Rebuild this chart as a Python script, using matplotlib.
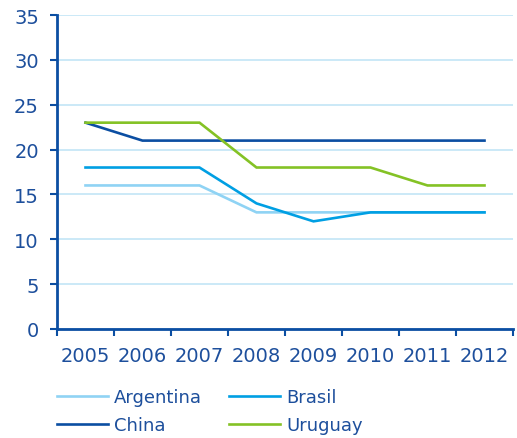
import matplotlib
matplotlib.use("Agg")
import matplotlib.pyplot as plt
import numpy as np

years = ["2005", "2006", "2007", "2008", "2009", "2010", "2011", "2012"]
argentina = [16, 16, 16, 13, 13, 13, 13, 13]
brasil = [18, 18, 18, 14, 12, 13, 13, 13]
china = [23, 21, 21, 21, 21, 21, 21, 21]
uruguay = [23, 23, 23, 18, 18, 18, 16, 16]
y_ticks = [0, 5, 10, 15, 20, 25, 30, 35]

series = [("Argentina", argentina, "#8fd3f4"),
          ("Brasil", brasil, "#009fe3"),
          ("China", china, "#0b4ea2"),
          ("Uruguay", uruguay, "#84c225")]

text_c = "#1d4f9c"
axis_c = "#0b4ea2"
grid_c = "#cbe9f7"

plt.rcParams['font.family'] = ['DejaVu Sans']
fig = plt.figure(figsize=(5.17, 4.39), dpi=100)
ax = fig.add_axes([57/517, 109/439, (513-57)/517, (330-16)/439])

x = np.arange(len(years))
handles = {}
for name, vals, col in series:
    h, = ax.plot(x, vals, color=col, lw=1.9, label=name, solid_joinstyle='miter')
    handles[name] = h

ax.set_xlim(-0.5, len(years) - 0.5)
ax.set_ylim(0, 35)
ax.set_yticks(y_ticks)
ax.set_yticklabels([str(v) for v in y_ticks])
ax.set_xticks(np.arange(len(years) + 1) - 0.5)
ax.set_xticklabels([])
ax.set_xticks(x, minor=True)
ax.set_xticklabels(years, minor=True)
ax.tick_params(axis='x', which='minor', length=0, pad=12, labelsize=14, labelcolor=text_c)
ax.tick_params(axis='x', which='major', length=5, width=1.5, color=axis_c, direction='out')
ax.tick_params(axis='y', length=5, width=1.5, color=axis_c, labelsize=14, labelcolor=text_c, pad=8)

for s in ['top', 'right']:
    ax.spines[s].set_visible(False)
for s in ['left', 'bottom']:
    ax.spines[s].set_color(axis_c)
    ax.spines[s].set_linewidth(2)

ax.yaxis.grid(True, color=grid_c, lw=1.4)
ax.set_axisbelow(True)

order = ["Argentina", "China", "Brasil", "Uruguay"]
leg = fig.legend(handles=[handles[n] for n in order], loc='upper left',
                 bbox_to_anchor=(50/517, 1 - 382/439),
                 ncol=2, frameon=False, fontsize=13, handlelength=2.8, handletextpad=0.35,
                 columnspacing=1.5, labelspacing=0.55, borderaxespad=0)
for t in leg.get_texts():
    t.set_color(text_c)

fig.savefig("out.png", dpi=100)
